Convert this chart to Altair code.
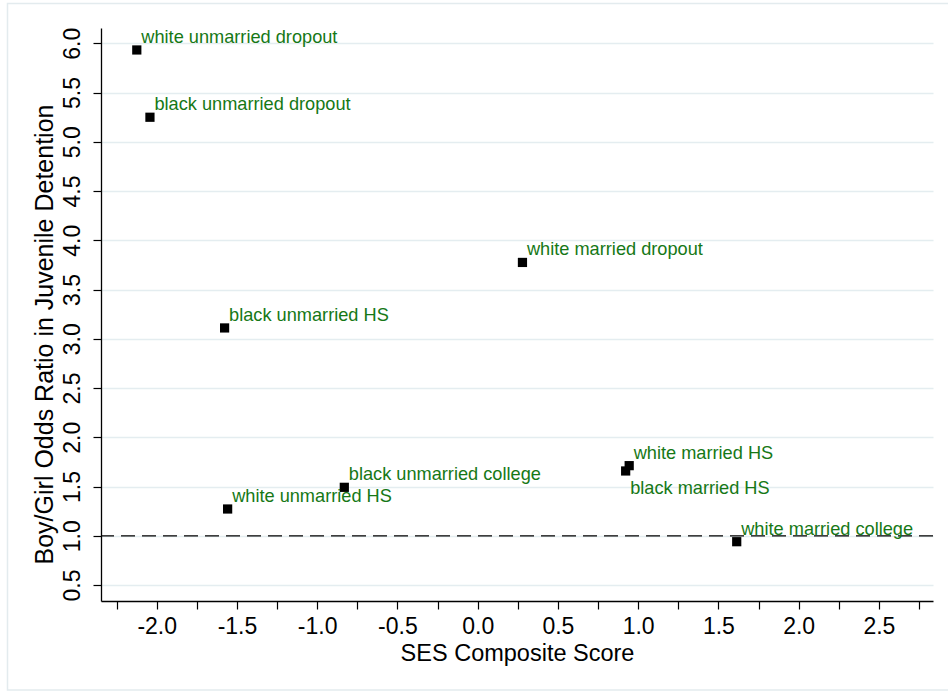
import altair as alt
import pandas as pd

# Family type groups, their SES composite score and boy/girl detention odds ratio
groups = [
    "white unmarried dropout",
    "black unmarried dropout",
    "white married dropout",
    "black unmarried HS",
    "black unmarried college",
    "white unmarried HS",
    "white married HS",
    "black married HS",
    "white married college",
]
ses_score = [-2.124, -2.042, 0.279, -1.577, -0.831, -1.558, 0.944, 0.922, 1.614]
odds_ratio = [5.932, 5.249, 3.775, 3.110, 1.492, 1.272, 1.712, 1.658, 0.940]

x_ticks = [-2.25 + 0.25 * i for i in range(21)]
y_ticks = [0.5 * i for i in range(1, 13)]
reference_level = 1.0

df = pd.DataFrame({"group": groups, "ses": ses_score, "ratio": odds_ratio})

FONT = "Liberation Sans"
GREEN = "#167816"

x_enc = alt.X(
    "ses:Q",
    scale=alt.Scale(domain=[-2.347, 2.837], nice=False, zero=False),
    axis=alt.Axis(
        title="SES Composite Score",
        values=x_ticks,
        labelExpr="abs(round(datum.value * 2) - datum.value * 2) < 0.001 ? "
                  "replace(format(datum.value, '.1f'), '\u2212', '-') : ''",
        grid=False,
        tickSize=8,
        labelPadding=6,
        titlePadding=3,
        titleFontSize=23.5,
        labelFlush=False,
    ),
)
y_enc = alt.Y(
    "ratio:Q",
    scale=alt.Scale(domain=[0.338, 6.155], nice=False, zero=False),
    axis=alt.Axis(
        title="Boy/Girl Odds Ratio in Juvenile Detention",
        values=y_ticks,
        format=".1f",
        labelAngle=-90,
        labelAlign="center",
        labelBaseline="bottom",
        grid=True,
        gridColor="#e4edf0",
        gridWidth=1.5,
        tickSize=8,
        labelPadding=9,
        titlePadding=4,
        titleFontSize=25,
        titleY=306,
        labelFlush=False,
    ),
)

base = alt.Chart(df)

points = base.mark_square(size=85, color="black", opacity=1).encode(x=x_enc, y=y_enc)

labels_above = base.transform_filter(alt.datum.group != "black married HS").mark_text(
    align="left", baseline="alphabetic", dx=4.5, dy=-7,
    font=FONT, fontSize=18.2, color=GREEN,
).encode(x="ses:Q", y="ratio:Q", text="group:N")

labels_below = base.transform_filter(alt.datum.group == "black married HS").mark_text(
    align="left", baseline="top", dx=4.5, dy=9,
    font=FONT, fontSize=18.2, color=GREEN,
).encode(x="ses:Q", y="ratio:Q", text="group:N")

ref_line = alt.Chart(pd.DataFrame({"level": [reference_level]})).mark_rule(
    color="black", strokeWidth=1.2, strokeDash=[14, 7]
).encode(y="level:Q")

# light outer frame around the graph region
frame = alt.Chart(pd.DataFrame({"level": [reference_level]})).mark_rect(
    fill=None, stroke="#e3ebee", strokeWidth=1.5
).encode(
    x=alt.value(-93.5), x2=alt.value(860),
    y=alt.value(-24.5), y2=alt.value(662),
)

chart = (
    alt.layer(frame, ref_line, points, labels_above, labels_below)
    .properties(
        width=832,
        height=573,
        autosize=alt.AutoSizeParams(type="none"),
        padding={"left": 101, "top": 28, "right": 15, "bottom": 93},
        background="white",
    )
    .configure_view(stroke=None)
    .configure_axis(
        domainColor="black",
        domainWidth=1.3,
        tickColor="black",
        tickWidth=1.2,
        labelFont=FONT,
        labelFontSize=23,
        labelColor="black",
        titleFont=FONT,
        titleFontWeight="normal",
        titleColor="black",
    )
)

chart.save("out.html", embed_options={"renderer": "svg", "actions": False})
